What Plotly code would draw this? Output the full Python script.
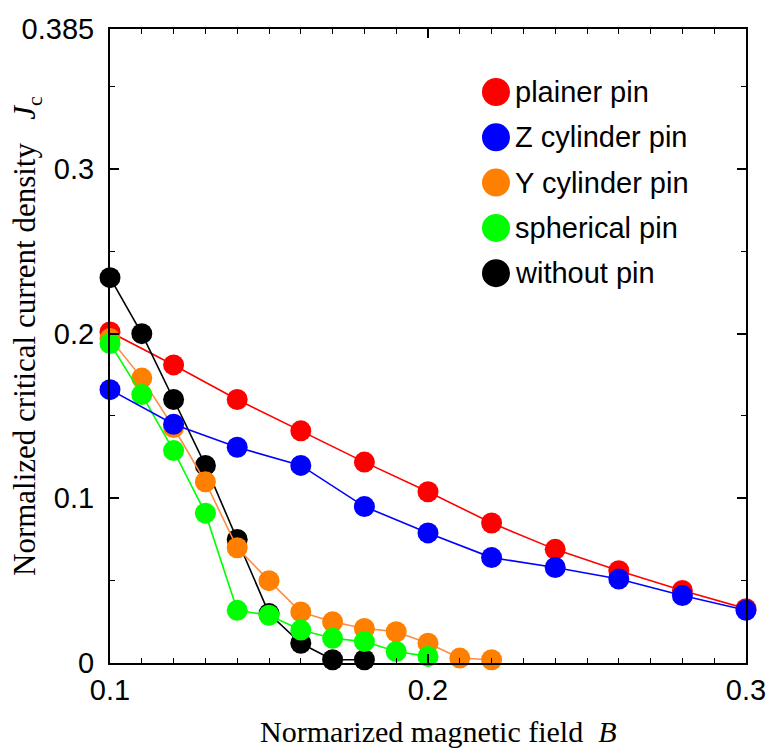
import plotly.graph_objects as go

# ---- data ----
names = ["plainer pin", "Z cylinder pin", "Y cylinder pin", "spherical pin", "without pin"]
marker_colors = ["#ff0000", "#0000ff", "#ff8000", "#00ff00", "#000000"]
line_colors = ["#ff0000", "#0000ff", "#ff8c45", "#00ff00", "#000000"]

plainer_x = [0.10, 0.12, 0.14, 0.16, 0.18, 0.20, 0.22, 0.24, 0.26, 0.28, 0.30]
plainer_y = [0.201, 0.181, 0.160, 0.141, 0.122, 0.104, 0.085, 0.069, 0.056, 0.044, 0.033]

zcyl_x = [0.10, 0.12, 0.14, 0.16, 0.18, 0.20, 0.22, 0.24, 0.26, 0.28, 0.30]
zcyl_y = [0.166, 0.145, 0.131, 0.120, 0.095, 0.079, 0.064, 0.058, 0.051, 0.041, 0.032]

ycyl_x = [0.10, 0.11, 0.12, 0.13, 0.14, 0.15, 0.16, 0.17, 0.18, 0.19, 0.20, 0.21, 0.22]
ycyl_y = [0.197, 0.173, 0.143, 0.110, 0.070, 0.050, 0.031, 0.025, 0.021, 0.019, 0.012, 0.003, 0.002]

sph_x = [0.10, 0.11, 0.12, 0.13, 0.14, 0.15, 0.16, 0.17, 0.18, 0.19, 0.20]
sph_y = [0.194, 0.163, 0.129, 0.091, 0.032, 0.029, 0.020, 0.015, 0.013, 0.007, 0.004]

nopin_x = [0.10, 0.11, 0.12, 0.13, 0.14, 0.15, 0.16, 0.17, 0.18]
nopin_y = [0.234, 0.200, 0.160, 0.120, 0.075, 0.030, 0.012, 0.002, 0.002]

series_x = [plainer_x, zcyl_x, ycyl_x, sph_x, nopin_x]
series_y = [plainer_y, zcyl_y, ycyl_y, sph_y, nopin_y]

x_tickvals = [0.1, 0.2, 0.3]
x_ticktext = ["0.1", "0.2", "0.3"]
y_tickvals = [0, 0.1, 0.2, 0.3, 0.385]
y_ticktext = ["0", "0.1", "0.2", "0.3", "0.385"]

# ---- figure ----
fig = go.Figure()
draw_order = [0, 4, 2, 3, 1]
for i in draw_order:
    fig.add_trace(go.Scatter(
        x=series_x[i], y=series_y[i], mode="lines+markers", name=names[i],
        line=dict(color=line_colors[i], width=1.6),
        marker=dict(color=marker_colors[i], size=21, line=dict(width=0)),
        cliponaxis=False, showlegend=False,
    ))

W, H = 769, 748
L, R, T, B = 110, 23, 29, 85
pw, ph = W - L - R, H - T - B

def px_to_paper_x(px):
    return (px - L) / pw

def px_to_paper_y(py):
    return (H - B - py) / ph

tick_font = dict(family="Liberation Sans, Arial", size=29, color="black")
axis_common = dict(
    showline=True, linecolor="black", linewidth=2, mirror="allticks",
    ticks="inside", ticklen=9, tickwidth=1.5, tickcolor="black",
    showgrid=False, zeroline=False, tickfont=tick_font,
)
fig.update_xaxes(range=[0.1, 0.3], tickvals=x_tickvals, ticktext=x_ticktext,
                 minor=dict(dtick=0.01, ticks="inside", ticklen=5, tickwidth=1.2, tickcolor="black", showgrid=False),
                 ticklabelstandoff=0, **axis_common)
fig.update_yaxes(range=[0, 0.385], tickvals=y_tickvals, ticktext=y_ticktext,
                 minor=dict(dtick=0.05, ticks="inside", ticklen=5, tickwidth=1.2, tickcolor="black", showgrid=False),
                 ticklabelstandoff=8, **axis_common)

# legend (manual, large circular swatches)
legend_x_px = 496
legend_y0_px = 92
legend_step = 45.3
for k, nm in enumerate(names):
    cy = px_to_paper_y(legend_y0_px + k * legend_step)
    fig.add_shape(type="circle", xref="paper", yref="paper",
                  xsizemode="pixel", ysizemode="pixel",
                  xanchor=px_to_paper_x(legend_x_px), yanchor=cy,
                  x0=-14, x1=14, y0=-14, y1=14,
                  fillcolor=marker_colors[k], line=dict(width=0))
    fig.add_annotation(xref="paper", yref="paper", x=px_to_paper_x(513), y=cy,
                       xanchor="left", yanchor="middle", showarrow=False,
                       text=nm, font=dict(family="Liberation Sans, Arial", size=29, color="black"))

fig.add_annotation(xref="paper", yref="paper", x=px_to_paper_x(438), y=px_to_paper_y(731),
                   xanchor="center", yanchor="middle", showarrow=False,
                   text="Normarized magnetic field  <i>B</i>",
                   font=dict(family="Liberation Serif, Times New Roman", size=30, color="black"))
fig.add_annotation(xref="paper", yref="paper", x=px_to_paper_x(27), y=px_to_paper_y(336),
                   xanchor="center", yanchor="middle", showarrow=False, textangle=-90,
                   text="Normalized critical current density&nbsp;&nbsp;&nbsp;<i>J</i><sub>c</sub>",
                   font=dict(family="Liberation Serif, Times New Roman", size=31, color="black"))

fig.update_layout(
    width=W, height=H, margin=dict(l=L, r=R, t=T, b=B, autoexpand=False),
    paper_bgcolor="white", plot_bgcolor="white", showlegend=False,
)

fig.write_html("out.html")
